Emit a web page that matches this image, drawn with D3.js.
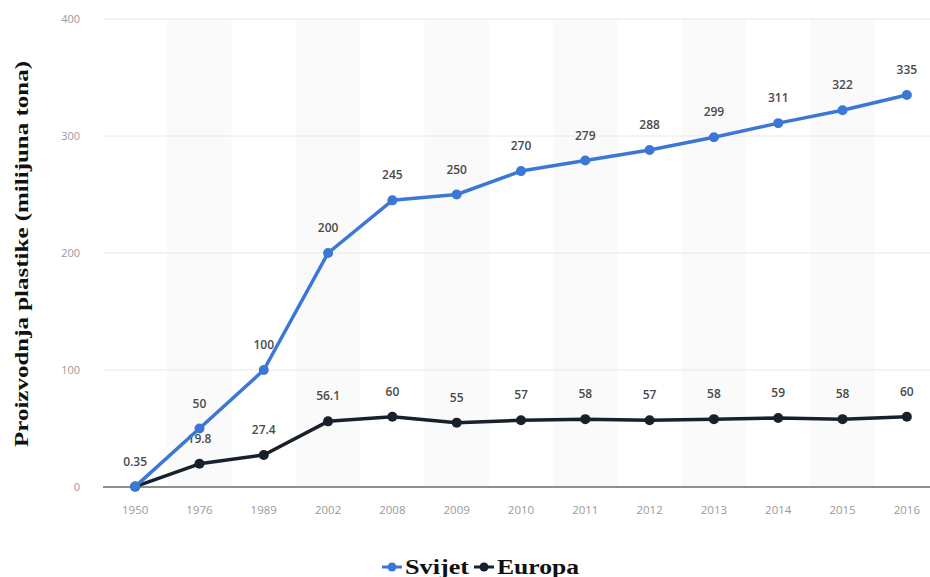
<!DOCTYPE html>
<html>
<head>
<meta charset="utf-8">
<script src="https://cdn.jsdelivr.net/npm/d3@7"></script>
<style>
body { margin: 0; background: #fff; }
</style>
</head>
<body>
<svg id="chart" width="930" height="577"></svg>
<script>
// years on the x axis
const years = ["1950","1976","1989","2002","2008","2009","2010","2011","2012","2013","2014","2015","2016"];
const svijet = [0.35,50,100,200,245,250,270,279,288,299,311,322,335];
const europa = [0.35,19.8,27.4,56.1,60,55,57,58,57,58,59,58,60];
const europaLabels = ["","19.8","27.4","56.1","60","55","57","58","57","58","59","58","60"];
const yTicks = [0,100,200,300,400];

const blue = "#3b78d6", dark = "#17202b";

let svg = d3.select("#chart");

let x = d3.scaleBand().domain(years).range([103, 939]);
let y = d3.scaleLinear().domain([0,400]).range([487, 19]);
let cx = d => x(d) + x.bandwidth()/2;

// alternating column shading
svg.selectAll(".band")
    .data(years.filter((d,i) => i % 2 == 1))
    .enter().append("rect")
    .attr("x", d => x(d))
    .attr("y", y(400))
    .attr("width", x.bandwidth())
    .attr("height", y(0) - y(400))
    .attr("fill", "#fafafa");

// grid lines
yTicks.forEach(t => {
    svg.append("line")
        .attr("x1", 103).attr("x2", 930)
        .attr("y1", y(t)).attr("y2", y(t))
        .attr("stroke", t == 0 ? "#8f8f8f" : "#e8e8e8")
        .attr("stroke-width", t == 0 ? 2 : 1);
    svg.append("text")
        .attr("x", 80).attr("y", y(t) + 4)
        .attr("text-anchor", "end")
        .style("font-family", "Open Sans, sans-serif")
        .style("font-size", "11px")
        .style("fill", "#9a9a9a")
        .text(t);
});

// x labels
svg.selectAll(".xl")
    .data(years)
    .enter().append("text")
    .attr("x", d => cx(d))
    .attr("y", 514)
    .attr("text-anchor", "middle")
    .style("font-family", "Open Sans, sans-serif")
    .style("font-size", "11.5px")
    .style("fill", "#9a9a9a")
    .text(d => d);

// y axis title
svg.append("text")
    .attr("transform", "translate(28,254) rotate(-90)")
    .attr("text-anchor", "middle")
    .attr("textLength", 386)
    .attr("lengthAdjust", "spacingAndGlyphs")
    .style("font-family", "Liberation Serif, serif")
    .style("font-weight", "bold")
    .style("font-size", "18px")
    .style("fill", "#111")
    .text("Proizvodnja plastike (milijuna tona)");

let line = d3.line()
    .x((d,i) => cx(years[i]))
    .y(d => y(d));

function drawSeries(vals, color, labels) {
    svg.append("path")
        .datum(vals)
        .attr("d", line)
        .attr("fill", "none")
        .attr("stroke", color)
        .attr("stroke-width", 3.5)
        .attr("stroke-linejoin", "round");
    vals.forEach((v,i) => {
        svg.append("circle")
            .attr("cx", cx(years[i]))
            .attr("cy", y(v))
            .attr("r", 5)
            .attr("fill", color);
        if (labels[i] !== "") {
            svg.append("text")
                .attr("x", cx(years[i]))
                .attr("y", y(v) - 21)
                .attr("text-anchor", "middle")
                .style("font-family", "Open Sans, sans-serif")
                .style("font-weight", 600)
                .style("font-size", "12px")
                .style("fill", "#4a4a4a")
                .text(labels[i]);
        }
    });
}

drawSeries(europa, dark, europaLabels);
drawSeries(svijet, blue, svijet.map(String));

// legend
let legend = [{name:"Svijet", color:blue, x:382, w:64}, {name:"Europa", color:dark, x:474, w:82}];
legend.forEach(l => {
    svg.append("line")
        .attr("x1", l.x).attr("x2", l.x + 20)
        .attr("y1", 567).attr("y2", 567)
        .attr("stroke", l.color).attr("stroke-width", 3);
    svg.append("circle")
        .attr("cx", l.x + 10).attr("cy", 567).attr("r", 4.5)
        .attr("fill", l.color);
    svg.append("text")
        .attr("x", l.x + 23).attr("y", 574)
        .attr("textLength", l.w)
        .attr("lengthAdjust", "spacingAndGlyphs")
        .style("font-family", "Liberation Serif, serif")
        .style("font-weight", "bold")
        .style("font-size", "20px")
        .style("fill", "#111")
        .text(l.name);
});
</script>
</body>
</html>
